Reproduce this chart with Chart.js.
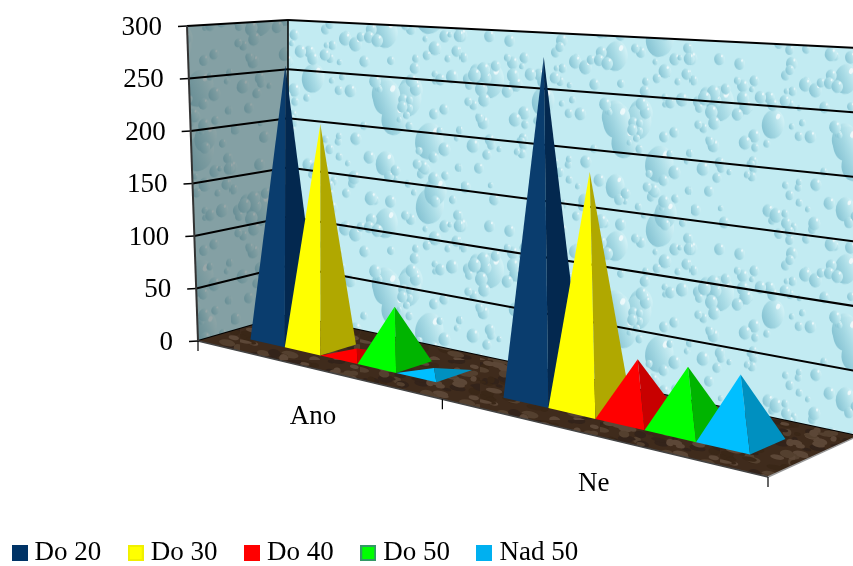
<!DOCTYPE html>
<html>
<head>
<meta charset="utf-8">
<style>
  html, body { margin: 0; padding: 0; background: #fff; }
  #wrap { width: 853px; height: 566px; }
</style>
<script src="https://cdn.jsdelivr.net/npm/chart.js"></script>
</head>
<body>
<div id="wrap"><canvas id="chart" width="853" height="566"></canvas></div>
<script>
const categories = ['Ano', 'Ne'];
const seriesNames = ['Do 20', 'Do 30', 'Do 40', 'Do 50', 'Nad 50'];
const do20 = [258, 281];
const do30 = [206, 190];
const do40 = [5, 46];
const do50 = [50, 48];
const nad50 = [3, 50];
const yMax = 300;
const yStep = 50;

const faceColors = ['#0a3d6e', '#ffff00', '#ff0000', '#00ff00', '#00bfff'];
const sideColors = ['#03284f', '#b0a800', '#c80000', '#00b400', '#0090c0'];
const legendColors = ['#003366', '#ffff00', '#ff0000', '#00ff00', '#00b0f0'];
const legendBorders = ['#003366', '#f0f000', '#ff0000', '#339966', '#00b0f0'];

const FONT = '"Liberation Serif", serif';

// floor quad in the picture, and the wall tops
const F0 = [198, 341], F1 = [768, 477], B1 = [858, 436], B0 = [288, 315];
const leftTop = [187, 26], cornerTop = [288, 20], rightTop = [858, 48];
const floorHeight = 315;
const depthFront = 0.285, depthBack = 0.675;

function makeHomography() {
  const dx1 = F1[0] - B1[0], dx2 = B0[0] - B1[0], sx = F0[0] - F1[0] + B1[0] - B0[0];
  const dy1 = F1[1] - B1[1], dy2 = B0[1] - B1[1], sy = F0[1] - F1[1] + B1[1] - B0[1];
  const den = dx1 * dy2 - dx2 * dy1;
  const g = (sx * dy2 - dx2 * sy) / den;
  const h = (dx1 * sy - sx * dy1) / den;
  const a = F1[0] - F0[0] + g * F1[0], b = B0[0] - F0[0] + h * B0[0];
  const d = F1[1] - F0[1] + g * F1[1], e = B0[1] - F0[1] + h * B0[1];
  return (u, v, t) => {
    const w = g * u + h * v + 1;
    const x = (a * u + b * v + F0[0]) / w;
    const y = (d * u + e * v + F0[1]) / w;
    return [x, y - (t || 0) * floorHeight / w];
  };
}
const project = makeHomography();

// small repeatable sequence, only used for the wall and floor textures
function seq(seed) {
  let s = seed;
  return () => { s = (s * 16807) % 2147483647; return s / 2147483647; };
}

function dropTile() {
  const W = 230, H = 190;
  const c = document.createElement('canvas');
  c.width = W; c.height = H;
  const g = c.getContext('2d');
  g.fillStyle = '#c2ebf2';
  g.fillRect(0, 0, W, H);
  const r = seq(4711);
  const drop = (x, y, rx, ry) => {
    // drawn at the neighbouring offsets too so the tile wraps
    [[0, 0], [-W, 0], [W, 0], [0, -H], [0, H]].forEach(([ox, oy]) => {
      const px = x + ox, py = y + oy;
      const lg = g.createLinearGradient(px - rx, py + ry * 0.4, px + rx, py - ry * 0.2);
      lg.addColorStop(0, '#86c3d3');
      lg.addColorStop(0.55, '#aadce6');
      lg.addColorStop(1, '#cff0f5');
      g.fillStyle = lg;
      g.beginPath();
      g.ellipse(px, py, rx, ry, 0.25, 0, Math.PI * 2);
      g.fill();
      g.fillStyle = 'rgba(255,255,255,0.7)';
      g.beginPath();
      g.ellipse(px + rx * 0.45, py - ry * 0.55, rx * 0.18, ry * 0.2, 0.4, 0, Math.PI * 2);
      g.fill();
    });
  };
  for (let i = 0; i < 12; i++) {
    const s = 9 + r() * 7;
    drop(r() * W, r() * H, s, s * 1.35);
  }
  for (let i = 0; i < 150; i++) {
    const s = 2.5 + r() * 4;
    drop(r() * W, r() * H, s, s * 1.15);
  }
  return c;
}

function floorTile() {
  const c = document.createElement('canvas');
  c.width = 120; c.height = 60;
  const g = c.getContext('2d');
  g.fillStyle = '#3f2b1c';
  g.fillRect(0, 0, 120, 60);
  const r = seq(913);
  const cols = ['#33231a', '#54402f', '#3a2717', '#5c4737'];
  for (let i = 0; i < 110; i++) {
    g.fillStyle = cols[i % 4];
    g.beginPath();
    g.ellipse(r() * 120, r() * 60, 3 + r() * 6, 1.5 + r() * 2.5, 0.2, 0, Math.PI * 2);
    g.fill();
  }
  return c;
}

function poly(ctx, pts) {
  ctx.beginPath();
  pts.forEach((p, i) => (i ? ctx.lineTo(p[0], p[1]) : ctx.moveTo(p[0], p[1])));
  ctx.closePath();
}

function line(ctx, a, b, color, width) {
  ctx.strokeStyle = color;
  ctx.lineWidth = width;
  ctx.beginPath();
  ctx.moveTo(a[0], a[1]);
  ctx.lineTo(b[0], b[1]);
  ctx.stroke();
}

function lerp(a, b, t) {
  return [a[0] + (b[0] - a[0]) * t, a[1] + (b[1] - a[1]) * t];
}

function drawWalls(chart) {
  const ctx = chart.ctx;
  const pat = ctx.createPattern(dropTile(), 'repeat');

  ctx.save();
  poly(ctx, [B0, cornerTop, rightTop, B1]);
  ctx.clip();
  ctx.transform(1, 0.1, 0, 1, 0, 0);
  ctx.fillStyle = pat;
  ctx.fillRect(0, -100, 1000, 700);
  ctx.restore();

  ctx.save();
  poly(ctx, [F0, leftTop, cornerTop, B0]);
  ctx.clip();
  ctx.transform(1, -0.05, 0, 1, 0, 0);
  ctx.fillStyle = pat;
  ctx.fillRect(100, -100, 300, 700);
  ctx.fillStyle = 'rgba(70,85,85,0.5)';
  ctx.fillRect(100, -100, 300, 700);
  ctx.restore();

  const yScale = chart.scales.y;
  const range = yScale.getPixelForValue(0) - yScale.getPixelForValue(yMax);
  ctx.fillStyle = '#000';
  ctx.font = '27px ' + FONT;
  ctx.textAlign = 'right';
  ctx.textBaseline = 'middle';
  yScale.ticks.forEach((tick) => {
    const t = (yScale.getPixelForValue(0) - yScale.getPixelForValue(tick.value)) / range;
    const a = lerp(F0, leftTop, t), b = lerp(B0, cornerTop, t), c = lerp(B1, rightTop, t);
    line(ctx, a, b, '#000', 2);
    line(ctx, b, c, '#000', 2);
    line(ctx, [a[0] - 9, a[1] + 0.5], a, '#000', 1.5);
    ctx.fillText(String(tick.value), a[0] - 25, a[1] + 1.5);
  });
  line(ctx, F0, leftTop, '#333', 2);
  line(ctx, B0, cornerTop, '#000', 1.5);
}

function drawFloor(chart) {
  const ctx = chart.ctx;
  ctx.save();
  poly(ctx, [F0, F1, B1, B0]);
  ctx.clip();
  ctx.fillStyle = ctx.createPattern(floorTile(), 'repeat');
  ctx.fillRect(0, 200, 853, 366);
  ctx.restore();
  line(ctx, F0, F1, '#444', 1.5);
  line(ctx, F1, B1, '#999', 1.5);

  // category boundaries and labels
  const xScale = chart.scales.x;
  const n = categories.length;
  for (let i = 0; i <= n; i++) {
    const p = project(i / n, 0);
    line(ctx, p, [p[0], p[1] + 10], '#000', 1.2);
  }
  ctx.fillStyle = '#000';
  ctx.font = '27px ' + FONT;
  ctx.textAlign = 'center';
  ctx.textBaseline = 'middle';
  categories.forEach((name, i) => {
    const u = (xScale.getPixelForValue(i) - xScale.left) / xScale.width;
    const p = project(u, 0);
    ctx.fillText(name, p[0] + 1, p[1] + 49);
  });
}

function drawPyramid(ctx, chart, el, k) {
  const area = chart.chartArea;
  const u = (el.x - area.left) / area.width;
  const du = el.width / area.width / 2;
  const t = (el.base - el.y) / area.height;
  const left = project(u - du, depthFront);
  const front = project(u + du, depthFront);
  const right = project(u + du, depthBack);
  const apex = project(u, (depthFront + depthBack) / 2, t);
  poly(ctx, [left, front, apex]);
  ctx.fillStyle = faceColors[k];
  ctx.fill();
  poly(ctx, [front, right, apex]);
  ctx.fillStyle = sideColors[k];
  ctx.fill();
}

const scenePlugin = {
  id: 'scene',
  afterLayout(chart) {
    // legend sits lower and further left than the library puts it
    const pad = chart.legend.options.labels.padding;
    chart.legend.left = -15;
    chart.legend.top = 553 - pad - 13.5;
  },
  beforeDatasetsDraw(chart) {
    const ctx = chart.ctx;
    drawWalls(chart);
    drawFloor(chart);
    categories.forEach((_, i) => {
      chart.data.datasets.forEach((ds, k) => {
        drawPyramid(ctx, chart, chart.getDatasetMeta(k).data[i], k);
      });
    });
    return false;
  },
};

function legendSwatch(fill, border) {
  const c = document.createElement('canvas');
  c.width = 16; c.height = 16;
  const g = c.getContext('2d');
  g.fillStyle = border;
  g.fillRect(0, 0, 16, 16);
  g.fillStyle = fill;
  g.fillRect(2, 2, 12, 12);
  return c;
}

new Chart(document.getElementById('chart'), {
  type: 'bar',
  data: {
    labels: categories,
    datasets: [do20, do30, do40, do50, nad50].map((values, k) => ({
      label: seriesNames[k],
      data: values,
      backgroundColor: legendColors[k],
    })),
  },
  options: {
    responsive: false,
    animation: false,
    events: [],
    datasets: { bar: { categoryPercentage: 0.76, barPercentage: 1 } },
    scales: {
      x: { display: false },
      y: { display: false, min: 0, max: yMax, ticks: { stepSize: yStep } },
    },
    plugins: {
      tooltip: { enabled: false },
      legend: {
        position: 'bottom',
        align: 'start',
        labels: {
          color: '#000',
          padding: 33,
          usePointStyle: true,
          pointStyleWidth: 3,
          font: { family: FONT, size: 27 },
          generateLabels: (chart) => chart.data.datasets.map((ds, k) => ({
            text: ds.label,
            datasetIndex: k,
            fontColor: '#000',
            lineWidth: 0,
            pointStyle: legendSwatch(legendColors[k], legendBorders[k]),
          })),
        },
      },
    },
  },
  plugins: [scenePlugin],
});
</script>
</body>
</html>
